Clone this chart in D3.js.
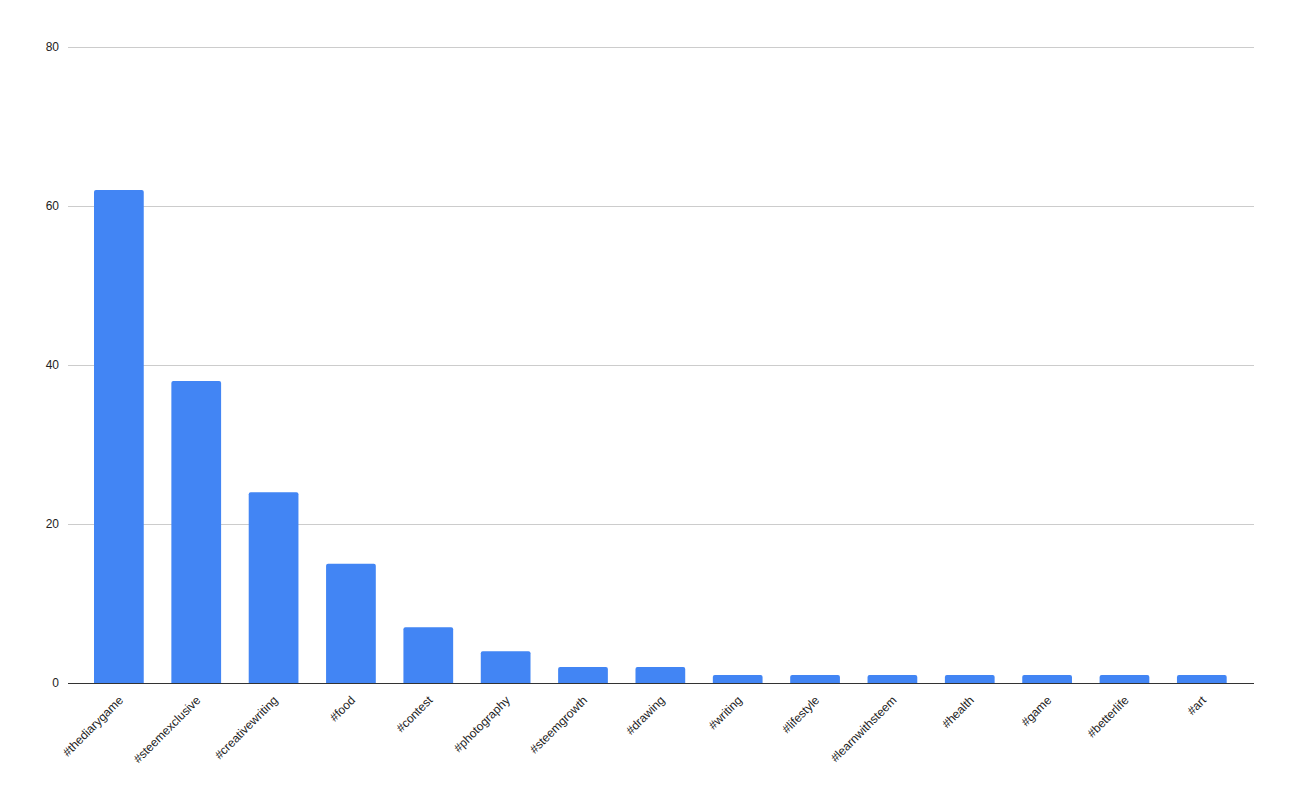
<!DOCTYPE html>
<html>
<head>
<meta charset="utf-8">
<script src="https://cdn.jsdelivr.net/npm/d3@7"></script>
<style>
  body { margin: 0; background: #fff; }
  text { font-family: Arial, "Liberation Sans", sans-serif; }
</style>
</head>
<body>
<div id="chart"></div>
<script>
const categories = ['#thediarygame', '#steemexclusive', '#creativewriting', '#food', '#contest',
    '#photography', '#steemgrowth', '#drawing', '#writing', '#lifestyle',
    '#learnwithsteem', '#health', '#game', '#betterlife', '#art'];
const counts = [62, 38, 24, 15, 7, 4, 2, 2, 1, 1, 1, 1, 1, 1, 1];
const yTicks = [0, 20, 40, 60, 80];

const width = 1294, height = 800;

const svg = d3.select('#chart')
    .append('svg')
    .attr('width', width)
    .attr('height', height);

// scales
const x = d3.scaleBand()
    .domain(categories)
    .range([80.2, 1240.5])
    .paddingInner(0.357)
    .paddingOuter(0.1785);

const y = d3.scaleLinear()
    .domain([0, 80])
    .range([683, 47]);

// gridlines + y labels
const yAxis = d3.axisLeft(y)
    .tickValues(yTicks)
    .tickSize(-(1254 - 68))
    .tickPadding(8)
    .tickFormat(d3.format('d'));

svg.append('g')
    .attr('transform', 'translate(68,0)')
    .call(yAxis)
    .call(g => g.select('.domain').remove())
    .call(g => g.selectAll('.tick line').attr('stroke', '#cccccc'))
    .call(g => g.selectAll('.tick text')
        .attr('fill', '#222')
        .style('font-size', '12px')
        .attr('x', -9));

// bars with slightly rounded tops
const r = 2;
svg.append('g')
    .selectAll('path')
    .data(categories)
    .join('path')
    .attr('fill', '#4285f4')
    .attr('d', (d, i) => {
        const x0 = x(d), x1 = x(d) + x.bandwidth();
        const y0 = y(0), y1 = y(counts[i]);
        return `M${x0},${y0}V${y1 + r}Q${x0},${y1} ${x0 + r},${y1}H${x1 - r}Q${x1},${y1} ${x1},${y1 + r}V${y0}Z`;
    });

// baseline
svg.append('line')
    .attr('x1', 68)
    .attr('x2', 1254)
    .attr('y1', y(0) + 0.5)
    .attr('y2', y(0) + 0.5)
    .attr('stroke', '#333')
    .attr('stroke-width', 1);

// x labels, rotated
svg.append('g')
    .selectAll('text')
    .data(categories)
    .join('text')
    .attr('text-anchor', 'end')
    .attr('fill', '#222')
    .style('font-size', '12px')
    .attr('transform', d => `translate(${x(d) + x.bandwidth() / 2 + 5},${y(0) + 18}) rotate(-45)`)
    .text(d => d);
</script>
</body>
</html>
